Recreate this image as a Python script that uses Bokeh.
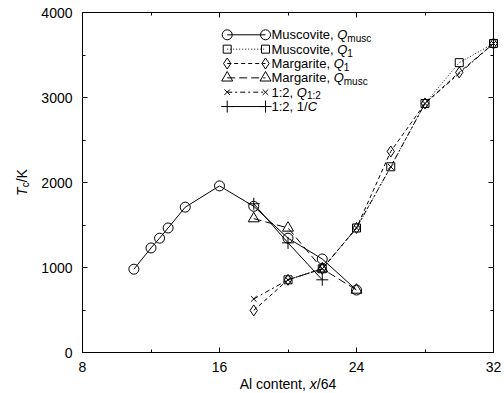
import math
from bokeh.plotting import figure
from bokeh.models import Range1d, LinearAxis, FixedTicker, Label
from bokeh.embed import file_html
from bokeh.resources import INLINE

# ---------------- data ----------------
musc_qmusc_x = [11, 12, 12.5, 13, 14, 16, 18, 20, 22, 24]
musc_qmusc_y = [980, 1230, 1345, 1465, 1710, 1960, 1720, 1345, 1100, 735]
musc_q1_x = [20, 22, 24, 26, 28, 30, 32]
musc_q1_y = [855, 985, 1465, 2185, 2930, 3410, 3635]
marg_q1_x = [18, 20, 22, 24, 26, 28, 30, 32]
marg_q1_y = [495, 855, 985, 1465, 2365, 2930, 3295, 3635]
marg_qmusc_x = [18, 20, 22, 24]
marg_qmusc_y = [1575, 1465, 985, 735]
r12_q12_x = [18, 20, 22, 24, 26, 28, 32]
r12_q12_y = [630, 855, 985, 1465, 2185, 2930, 3635]
r12_invc_x = [18, 20, 22]
r12_invc_y = [1750, 1290, 855]

x_ticks = [8, 16, 24, 32]
x_minor = [12, 20, 28]
y_ticks = [0, 1000, 2000, 3000, 4000]
y_minor = [500, 1500, 2500, 3500]
X0, X1, Y0, Y1 = 8, 32, 0, 4000

# ---------------- layout ----------------
W, H = 504, 393
L, T = 82, 12          # plot box position on the canvas
FW, FH = 411, 340      # plot box size
FONT = "Liberation Sans"
KX = FW / (X1 - X0)
KY = FH / (Y1 - Y0)
XS = X0 - L / KX
XE = X1 + (W - L - FW) / KX
YS = Y0 - (H - T - FH) / KY
YE = Y1 + T / KY

p = figure(width=W, height=H, output_backend="svg", toolbar_location=None,
           x_range=Range1d(XS, XE), y_range=Range1d(YS, YE),
           x_axis_location=None, y_axis_location=None,
           min_border=0, min_border_left=0, min_border_right=0,
           min_border_top=0, min_border_bottom=0)
p.outline_line_color = None
p.background_fill_color = "white"
p.border_fill_color = "white"
for g in p.grid:
    g.visible = False


def make_axis(ticks, minor, loc, bounds, show_labels, standoff):
    ax = LinearAxis(ticker=FixedTicker(ticks=ticks, minor_ticks=minor),
                    fixed_location=loc, bounds=bounds)
    ax.axis_line_color = "black"
    ax.axis_line_width = 1
    ax.major_tick_in = 5
    ax.major_tick_out = 0
    ax.minor_tick_in = 3
    ax.minor_tick_out = 0
    ax.major_tick_line_color = "black"
    ax.minor_tick_line_color = "black"
    ax.major_label_text_font = FONT
    ax.major_label_text_color = "black"
    ax.major_label_text_font_size = "14px"
    ax.major_label_standoff = standoff
    if not show_labels:
        ax.major_label_overrides = {t: "" for t in ticks}
        ax.major_label_text_font_size = "1px"
        ax.major_label_standoff = 0
    return ax


p.add_layout(make_axis(x_ticks, x_minor, Y0, (X0, X1), True, 9), "below")
p.add_layout(make_axis(y_ticks, y_minor, X0, (Y0, Y1), True, 10), "left")
p.add_layout(make_axis(x_ticks, x_minor, Y1, (X0, X1), False, 0), "above")
p.add_layout(make_axis(y_ticks, y_minor, X1, (Y0, Y1), False, 0), "right")

# ---------------- series ----------------
series = [
    (musc_qmusc_x, musc_qmusc_y, "circle", 10, "solid",
     [("Muscovite, ", "n"), ("Q", "i"), ("musc", "s")]),
    (musc_q1_x, musc_q1_y, "square", 8, "1 2",
     [("Muscovite, ", "n"), ("Q", "i"), ("1", "s")]),
    (marg_q1_x, marg_q1_y, "diamond", 11, "4 3",
     [("Margarite, ", "n"), ("Q", "i"), ("1", "s")]),
    (marg_qmusc_x, marg_qmusc_y, "triangle", 11, "8 4",
     [("Margarite, ", "n"), ("Q", "i"), ("musc", "s")]),
    (r12_q12_x, r12_q12_y, "x", 8, "5 3 2 3",
     [("1:2, ", "n"), ("Q", "i"), ("1:2", "s")]),
    (r12_invc_x, r12_invc_y, "cross", 12, "solid",
     [("1:2, 1/", "n"), ("C", "i")]),
]

for xs, ys, marker, size, dash, _ in series:
    p.line(xs, ys, line_color="black", line_width=1, line_dash=dash)
    p.scatter(xs, ys, marker=marker, size=size, fill_color=None,
              line_color="black", line_width=1)

# ---------------- text helpers ----------------
CW = {'M': 833, 'u': 556, 's': 500, 'c': 500, 'o': 556, 'v': 500, 'i': 222,
      't': 278, 'e': 556, ',': 278, ' ': 278, 'a': 556, 'r': 333, 'g': 556,
      '1': 556, ':': 278, '2': 556, '/': 278, 'Q': 778, 'C': 722, 'm': 833,
      'A': 667, 'l': 222, 'n': 556, 'x': 500, '6': 556, '4': 556, 'T': 611,
      'K': 667}


def tw(text, size):
    return sum(CW.get(ch, 556) for ch in text) * size / 1000.0


def dx(px):
    return XS + px / KX


def dy(py):
    return YE - py / KY


def rich(parts, x_px, mid_px, size, sub_size, vertical=False):
    """Draw mixed-style text; mid_px is the vertical centre of the main text."""
    cur = 0.0
    for text, style in parts:
        fs = sub_size if style == "s" else size
        shift = 3.6 if style == "s" else 0.0
        if vertical:
            lx, ly = mid_px + shift, x_px - cur
            ang = math.pi / 2
        else:
            lx, ly = x_px + cur, mid_px + shift
            ang = 0
        p.add_layout(Label(x=dx(lx), y=dy(ly), text=text, angle=ang,
                           text_font=FONT, text_font_size=f"{fs}px",
                           text_font_style="italic" if style == "i" else "normal",
                           text_color="black", text_align="left",
                           text_baseline="middle"))
        cur += tw(text, fs)


# ---------------- legend ----------------
LEG_X0, LEG_X1, LEG_TXT = 226.7, 265.0, 271.0
LEG_Y0, LEG_DY = 34.3, 14.35
for i, (_, _, marker, size, dash, parts) in enumerate(series):
    ry = LEG_Y0 + i * LEG_DY
    p.line([dx(LEG_X0), dx(LEG_X1)], [dy(ry), dy(ry)], line_color="black",
           line_width=1, line_dash=dash)
    p.scatter([dx(LEG_X0), dx(LEG_X1)], [dy(ry), dy(ry)], marker=marker,
              size=size, fill_color=None, line_color="black", line_width=1)
    rich(parts, LEG_TXT, ry, 13, 10)

# ---------------- axis titles ----------------
xparts = [("Al content, ", "n"), ("x", "i"), ("/64", "n")]
xw = sum(tw(t, 14) for t, _ in xparts)
rich(xparts, L + FW / 2 - xw / 2, 383, 14, 10)

yparts = [("T", "i"), ("c", "s"), ("/K", "n")]
yw = tw("T", 14) + tw("c", 10) + tw("/K", 14)
rich(yparts, T + FH / 2 + yw / 2, 21, 14, 10, vertical=True)

open("out.html", "w").write(file_html(p, INLINE))
